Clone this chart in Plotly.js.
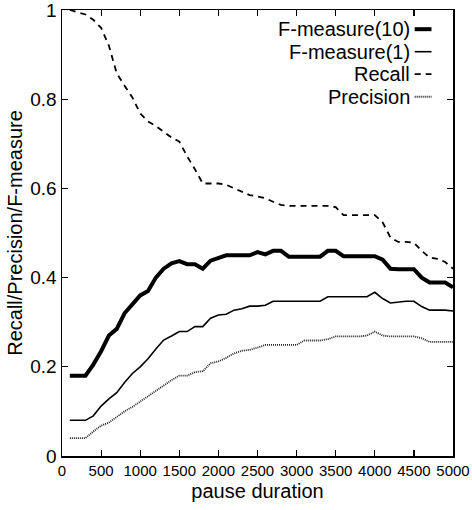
<!DOCTYPE html>
<html>
<head>
<meta charset="utf-8">
<script src="https://cdn.plot.ly/plotly-3.0.1.min.js"></script>
<style>html,body{margin:0;padding:0;background:#fff;}#chart{width:472px;height:510px;}</style>
</head>
<body>
<div id="chart"></div>
<script>
// pause duration (ms)
const pauseDuration = [100,200,300,400,500,600,700,800,900,1000,1100,1200,1300,1400,1500,1600,1700,1800,1900,2000,2100,2200,2300,2400,2500,2600,2700,2800,2900,3000,3100,3200,3300,3400,3500,3600,3700,3800,3900,4000,4100,4200,4300,4400,4500,4600,4700,4800,4900,5000];

const fMeasure10 = [0.18,0.18,0.18,0.205,0.235,0.27,0.285,0.32,0.34,0.36,0.37,0.40,0.42,0.432,0.437,0.43,0.43,0.42,0.438,0.443,0.45,0.45,0.45,0.45,0.457,0.452,0.46,0.46,0.447,0.447,0.447,0.447,0.447,0.46,0.46,0.448,0.448,0.448,0.448,0.448,0.44,0.42,0.419,0.419,0.419,0.40,0.389,0.389,0.389,0.378];

const fMeasure1 = [0.08,0.08,0.08,0.09,0.112,0.128,0.142,0.165,0.185,0.2,0.218,0.24,0.26,0.269,0.279,0.279,0.29,0.29,0.309,0.316,0.318,0.327,0.33,0.336,0.336,0.338,0.347,0.347,0.347,0.347,0.347,0.347,0.347,0.357,0.357,0.357,0.357,0.357,0.357,0.367,0.353,0.343,0.345,0.347,0.347,0.335,0.327,0.327,0.327,0.325];

const recall = [1.0,0.995,0.99,0.978,0.96,0.92,0.858,0.83,0.804,0.768,0.75,0.74,0.727,0.714,0.705,0.672,0.643,0.611,0.611,0.611,0.608,0.6,0.592,0.585,0.582,0.578,0.57,0.563,0.561,0.561,0.561,0.561,0.561,0.561,0.558,0.54,0.54,0.54,0.54,0.54,0.524,0.49,0.48,0.48,0.478,0.46,0.445,0.442,0.435,0.42];

const precision = [0.04,0.04,0.04,0.055,0.068,0.075,0.088,0.1,0.11,0.122,0.135,0.148,0.16,0.17,0.18,0.18,0.188,0.19,0.208,0.212,0.22,0.23,0.236,0.238,0.243,0.249,0.249,0.249,0.249,0.249,0.259,0.259,0.259,0.262,0.268,0.268,0.268,0.268,0.27,0.279,0.27,0.268,0.268,0.268,0.268,0.264,0.256,0.256,0.256,0.256];

const seriesNames = ["F-measure(10)","F-measure(1)","Recall","Precision"];
const xTickVals = [0,500,1000,1500,2000,2500,3000,3500,4000,4500,5000];
const yTickVals = [0,0.2,0.4,0.6,0.8,1];
const yTickText = ["0","0.2","0.4","0.6","0.8","1"];

const styles = [
  {color:"#000", width:4, dash:"solid"},
  {color:"#000", width:1.6, dash:"solid"},
  {color:"#000", width:1.8, dash:"6px,5px"},
  {color:"#222", width:1.8, dash:"1px,1px"}
];
const seriesData = [fMeasure10, fMeasure1, recall, precision];

const traces = seriesData.map((ys, i) => ({
  x: pauseDuration, y: ys, type: "scatter", mode: "lines",
  name: seriesNames[i], line: styles[i], showlegend: false, cliponaxis: true
}));

// manual gnuplot-style legend: right-aligned text, sample to the right
const legendTop = 0.957, legendStep = 0.0505;
const annotations = seriesNames.map((n, i) => ({
  xref: "paper", yref: "paper", x: 0.895, y: legendTop - i*legendStep,
  xanchor: "right", yanchor: "middle", text: n, showarrow: false,
  font: {family: "Liberation Sans, Arial, sans-serif", size: 20, color: "#000"}
}));
const shapes = seriesNames.map((n, i) => ({
  type: "line", xref: "paper", yref: "paper",
  x0: 0.902, x1: 0.945, y0: legendTop - i*legendStep, y1: legendTop - i*legendStep,
  line: styles[i]
}));

const layout = {
  width: 472, height: 510,
  margin: {l: 62, r: 19, t: 10, b: 54},
  paper_bgcolor: "#fff", plot_bgcolor: "#fff",
  font: {family: "Liberation Sans, Arial, sans-serif", color: "#000"},
  xaxis: {
    range: [0, 5000], tickvals: xTickVals, ticks: "inside", ticklen: 6, tickwidth: 1.2,
    tickcolor: "#000", mirror: "ticks", showline: true, linecolor: "#000", linewidth: 1.5,
    showgrid: false, zeroline: false, tickfont: {size: 15}, ticklabeloverflow: "allow",
    title: {text: "pause duration", font: {size: 20}, standoff: 6}
  },
  yaxis: {
    range: [0, 1], tickvals: yTickVals, ticktext: yTickText, ticks: "inside", ticklen: 6, tickwidth: 1.2,
    tickcolor: "#000", mirror: "ticks", showline: true, linecolor: "#000", linewidth: 1.5,
    showgrid: false, zeroline: false, tickfont: {size: 19}, ticklabeloverflow: "allow",
    title: {text: "Recall/Precision/F-measure", font: {size: 20}, standoff: 2}
  },
  annotations: annotations,
  shapes: shapes
};

Plotly.newPlot("chart", traces, layout, {staticPlot: true, displayModeBar: false});
</script>
</body>
</html>
